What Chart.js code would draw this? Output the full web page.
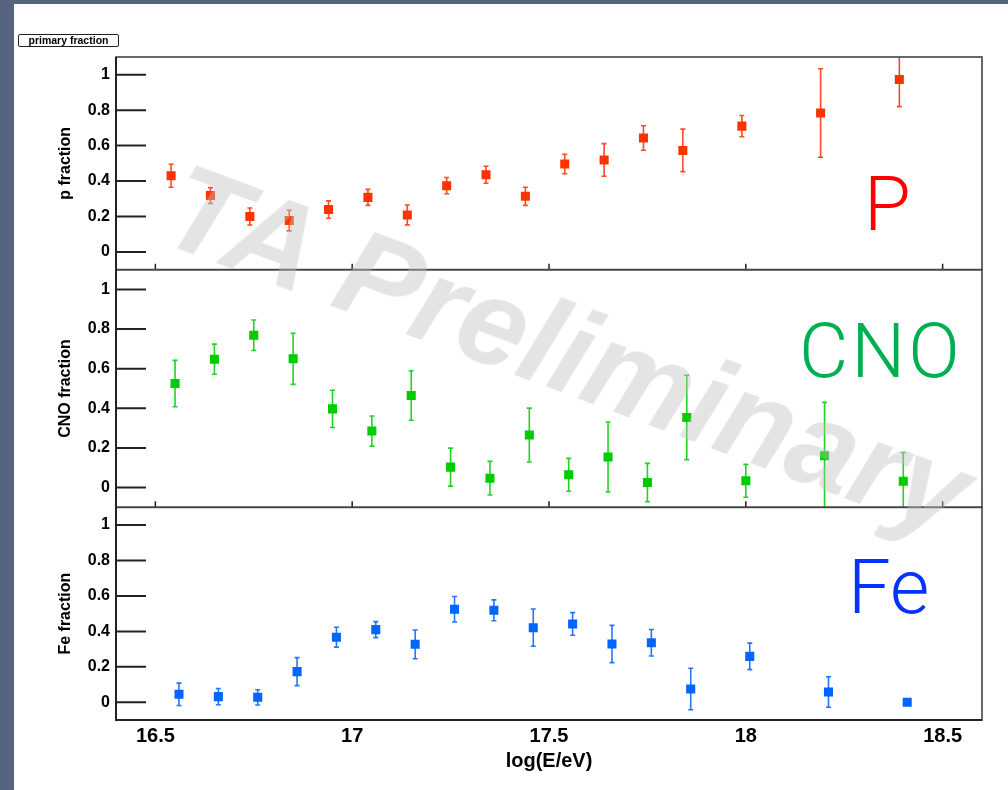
<!DOCTYPE html>
<html><head><meta charset="utf-8">
<script src="https://cdn.jsdelivr.net/npm/chart.js@4.4.1/dist/chart.umd.min.js"></script>
<style>
html,body{margin:0;padding:0;}
body{width:1008px;height:790px;background:#56657f;position:relative;overflow:hidden;font-family:'Liberation Sans',Arial,sans-serif;}
#paper{position:absolute;left:14px;top:4px;width:994px;height:786px;background:#fff;}
#c{position:absolute;left:0;top:0;}
.lbl{position:absolute;font-family:Roboto,'Liberation Sans',sans-serif;font-weight:300;font-size:76px;line-height:76px;white-space:nowrap;}
#legend{position:absolute;left:18px;top:34px;width:99px;height:11px;border:1.5px solid #222;border-radius:2px;font:bold 10.5px 'Liberation Sans',Arial,sans-serif;text-align:center;line-height:11px;color:#000;}
#wm{position:absolute;left:568px;top:350px;transform:translate(-50%,-50%) rotate(20.5deg);font:italic bold 122px 'Liberation Sans',Arial,sans-serif;color:rgba(190,190,190,0.42);white-space:nowrap;line-height:1;pointer-events:none;}
</style>
</head><body>
<div id="paper"></div>
<canvas id="c" width="1008" height="790"></canvas>
<div id="legend">primary fraction</div>
<div class="lbl" style="left:864px;top:166px;color:#ff0000;">P</div>
<div class="lbl" style="left:799px;top:313px;color:#00b050;letter-spacing:3px;">CNO</div>
<div class="lbl" style="left:848px;top:549px;color:#0433ff;">Fe</div>
<div id="wm">TA Preliminary</div>
<script>
// ---- data ----
const xTicks = [16.5, 17, 17.5, 18, 18.5];
const yTicks = [0, 0.2, 0.4, 0.6, 0.8, 1];

const xP   = [16.54,16.64,16.74,16.84,16.94,17.04,17.14,17.24,17.34,17.44,17.54,17.64,17.74,17.84,17.99,18.19,18.39];
const pVal = [0.43,0.318,0.20,0.177,0.239,0.308,0.209,0.374,0.436,0.314,0.496,0.519,0.643,0.573,0.71,0.784,0.973];
const pErr = [0.065,0.045,0.048,0.058,0.049,0.045,0.056,0.046,0.048,0.051,0.055,0.092,0.069,0.12,0.06,0.25,0.153];

const xCNO   = [16.55,16.65,16.75,16.85,16.95,17.05,17.15,17.25,17.35,17.45,17.55,17.65,17.75,17.85,18.0,18.2,18.4];
const cnoVal = [0.525,0.648,0.769,0.65,0.397,0.285,0.465,0.103,0.047,0.265,0.064,0.154,0.025,0.354,0.034,0.16,0.032];
const cnoErr = [0.117,0.076,0.077,0.129,0.094,0.076,0.125,0.096,0.085,0.136,0.083,0.177,0.097,0.213,0.083,0.27,0.145];

const xFe   = [16.56,16.66,16.76,16.86,16.96,17.06,17.16,17.26,17.36,17.46,17.56,17.66,17.76,17.86,18.01,18.21,18.41];
const feVal = [0.045,0.032,0.028,0.173,0.367,0.41,0.327,0.525,0.519,0.421,0.442,0.329,0.336,0.075,0.259,0.058,0.0];
const feErr = [0.063,0.046,0.043,0.079,0.056,0.045,0.081,0.072,0.059,0.105,0.064,0.105,0.075,0.117,0.075,0.086,0];

const yTitles = {yP: 'p fraction', yCNO: 'CNO fraction', yFe: 'Fe fraction'};

const pts = (xs, ys) => xs.map((x, i) => ({x: x, y: ys[i]}));
const fmt = v => String(+Number(v).toFixed(1));
const FONT = "'Liberation Sans', Arial, Helvetica, sans-serif";

function mkDs(label, xs, ys, errs, axis, col, barCol) {
  return {label, data: pts(xs, ys), errs, barColor: barCol, yAxisID: axis, xAxisID: 'x',
    showLine: false, pointStyle: 'rect', pointRadius: 6.4, pointHoverRadius: 6.4,
    backgroundColor: col, borderColor: col, borderWidth: 0};
}

function mkY(id, weight) {
  return {
    type: 'linear', position: 'left', stack: 'panels', stackWeight: weight,
    min: -0.1, max: 1.1,
    afterBuildTicks: s => { s.ticks = yTicks.map(v => ({value: v})); },
    afterFit: s => { s.width = 116; },
    grid: {display: false, drawTicks: false},
    border: {display: false},
    ticks: {color: '#000', padding: 6, font: {family: FONT, weight: 'bold', size: 16}, callback: fmt},
    title: {display: true, text: yTitles[id], color: '#000',
      font: {family: FONT, weight: 'bold', size: 16}, padding: {top: 56, bottom: 0}}
  };
}

const errBars = {
  id: 'errBars',
  beforeDatasetsDraw(chart) {
    const ctx = chart.ctx, a = chart.chartArea, xs = chart.scales.x;
    chart.data.datasets.forEach(ds => {
      const ys = chart.scales[ds.yAxisID];
      ctx.save();
      ctx.beginPath();
      ctx.rect(a.left, ys.top, a.right - a.left, ys.bottom - ys.top);
      ctx.clip();
      ctx.strokeStyle = ds.barColor;
      ctx.lineWidth = 1.6;
      ds.data.forEach((p, j) => {
        const e = ds.errs[j];
        if (!e) return;
        const px = xs.getPixelForValue(p.x);
        const yt = ys.getPixelForValue(p.y + e), yb = ys.getPixelForValue(p.y - e);
        ctx.beginPath();
        ctx.moveTo(px, yt); ctx.lineTo(px, yb);
        ctx.moveTo(px - 2.5, yt); ctx.lineTo(px + 2.5, yt);
        ctx.moveTo(px - 2.5, yb); ctx.lineTo(px + 2.5, yb);
        ctx.stroke();
      });
      ctx.restore();
    });
  },
  afterDraw(chart) {
    const ctx = chart.ctx, a = chart.chartArea, xs = chart.scales.x;
    ctx.save();
    ['yP', 'yCNO', 'yFe'].forEach((id, k) => {
      const s = chart.scales[id];
      ctx.strokeStyle = '#444';
      ctx.lineWidth = 1.6;
      ctx.strokeRect(a.left, s.top, a.right - a.left, s.bottom - s.top);
      ctx.strokeStyle = '#222';
      ctx.lineWidth = 2;
      ctx.beginPath();
      s.ticks.forEach(t => {
        const y = s.getPixelForValue(t.value);
        ctx.moveTo(a.left, y); ctx.lineTo(a.left + 30, y);
      });
      ctx.stroke();
      if (k < 2) {
        ctx.lineWidth = 1.5;
        ctx.beginPath();
        xs.ticks.forEach(t => {
          const x = xs.getPixelForValue(t.value);
          ctx.moveTo(x, s.bottom); ctx.lineTo(x, s.bottom - 6);
        });
        ctx.stroke();
      }
    });
    ctx.strokeStyle = '#222';
    ctx.lineWidth = 2;
    ctx.beginPath();
    ctx.moveTo(a.left, a.top); ctx.lineTo(a.left, a.bottom); ctx.lineTo(a.right, a.bottom);
    ctx.stroke();
    ctx.restore();
  }
};

new Chart(document.getElementById('c'), {
  type: 'scatter',
  data: {datasets: [
    mkDs('p', xP, pVal, pErr, 'yP', '#ff3300', '#ff4a26'),
    mkDs('CNO', xCNO, cnoVal, cnoErr, 'yCNO', '#00cc00', '#22d422'),
    mkDs('Fe', xFe, feVal, feErr, 'yFe', '#0066ff', '#2277ff')
  ]},
  options: {
    responsive: false, animation: false, devicePixelRatio: 1,
    layout: {padding: {top: 57, right: 26, left: 0, bottom: 0}},
    plugins: {legend: {display: false}, tooltip: {enabled: false}},
    scales: {
      x: {
        type: 'linear', position: 'bottom', min: 16.4, max: 18.6,
        afterBuildTicks: s => { s.ticks = xTicks.map(v => ({value: v})); },
        afterFit: s => { s.height = 70; },
        grid: {display: false, drawTicks: false},
        border: {display: false},
        ticks: {color: '#000', padding: 4, maxRotation: 0, font: {family: FONT, weight: 'bold', size: 20}, callback: fmt},
        title: {display: true, text: 'log(E/eV)', color: '#000',
          font: {family: FONT, weight: 'bold', size: 20}, padding: {top: 0, bottom: 17}}
      },
      yFe: mkY('yFe', 213),
      yCNO: mkY('yCNO', 238),
      yP: mkY('yP', 213)
    }
  },
  plugins: [errBars]
});
</script>
</body></html>
